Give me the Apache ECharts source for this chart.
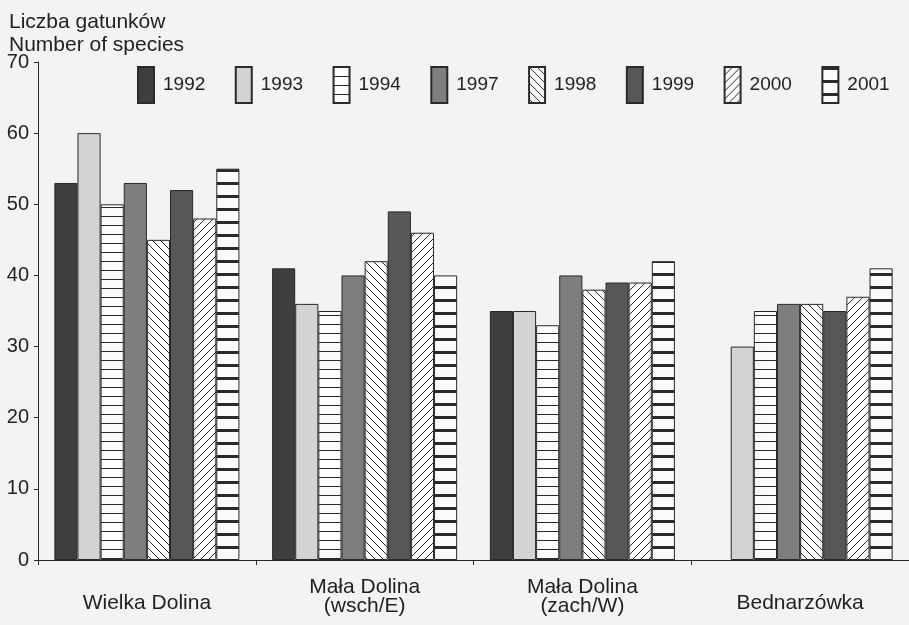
<!DOCTYPE html>
<html>
<head>
<meta charset="utf-8">
<script src="https://cdn.jsdelivr.net/npm/echarts@6.0.0/dist/echarts.min.js"></script>
<style>
  html, body { margin: 0; padding: 0; background: #f3f3f3; }
  #chart { width: 909px; height: 625px; }
</style>
</head>
<body>
<div id="chart"></div>
<script>
  // dane
  let sites = ['Wielka Dolina', 'Mała Dolina\n(wsch/E)', 'Mała Dolina\n(zach/W)', 'Bednarzówka']
  let years = ['1992', '1993', '1994', '1997', '1998', '1999', '2000', '2001']
  let y1992 = [53, 41, 35, null]
  let y1993 = [60, 36, 35, 30]
  let y1994 = [50, 35, 33, 35]
  let y1997 = [53, 40, 40, 36]
  let y1998 = [45, 42, 38, 36]
  let y1999 = [52, 49, 39, 35]
  let y2000 = [48, 46, 39, 37]
  let y2001 = [55, 40, 42, 41]
  let yTicks = [0, 10, 20, 30, 40, 50, 60, 70]

  let font = "'Liberation Sans', Arial, sans-serif"
  let ink = '#2a2a2a'
  let paper = '#fbfbfb'

  /* poziome linie (kreskowanie) */
  let hLines = (step, thick) => {
    let c = document.createElement('canvas')
    c.width = 4
    c.height = step
    let ctx = c.getContext('2d')
    ctx.fillStyle = paper
    ctx.fillRect(0, 0, 4, step)
    ctx.fillStyle = ink
    ctx.fillRect(0, 0, 4, thick)
    return { image: c, repeat: 'repeat' }
  }

  /* ukośne linie, dir = 1 dla "/" i -1 dla "\" */
  let diag = (step, dir) => {
    let c = document.createElement('canvas')
    c.width = step
    c.height = step
    let ctx = c.getContext('2d')
    ctx.fillStyle = paper
    ctx.fillRect(0, 0, step, step)
    ctx.strokeStyle = ink
    ctx.lineWidth = 1
    ctx.beginPath()
    if (dir > 0) {
      ctx.moveTo(0, step); ctx.lineTo(step, 0)
      ctx.moveTo(-1, 1); ctx.lineTo(1, -1)
      ctx.moveTo(step - 1, step + 1); ctx.lineTo(step + 1, step - 1)
    } else {
      ctx.moveTo(0, 0); ctx.lineTo(step, step)
      ctx.moveTo(-1, step - 1); ctx.lineTo(1, step + 1)
      ctx.moveTo(step - 1, -1); ctx.lineTo(step + 1, 1)
    }
    ctx.stroke()
    return { image: c, repeat: 'repeat' }
  }

  let fills = [
    '#3e3e3e',
    '#d3d3d3',
    hLines(9, 1),
    '#7e7e7e',
    diag(8, -1),
    '#575757',
    diag(8, 1),
    hLines(13, 3)
  ]
  let values = [y1992, y1993, y1994, y1997, y1998, y1999, y2000, y2001]

  let series = years.map((name, i) => ({
    name: name,
    type: 'bar',
    data: values[i],
    barGap: '0%',
    barCategoryGap: '15%',
    itemStyle: { color: fills[i], borderColor: ink, borderWidth: 1 },
    emphasis: { disabled: true }
  }))

  let chart = echarts.init(document.getElementById('chart'), null, { renderer: 'canvas' })
  chart.setOption({
    backgroundColor: '#f3f3f3',
    animation: false,
    title: {
      text: 'Liczba gatunków\nNumber of species',
      left: 4,
      top: 6,
      textStyle: { fontFamily: font, fontSize: 21, lineHeight: 23, fontWeight: 'normal', color: '#222' }
    },
    legend: {
      data: years,
      left: 132,
      top: 61,
      icon: 'rect',
      itemWidth: 16,
      itemHeight: 36,
      itemGap: 29.5,
      textStyle: { fontFamily: font, fontSize: 19, color: '#222', padding: [0, 0, 0, 4] }
    },
    grid: { left: 38, right: 0, top: 62, bottom: 65, containLabel: false },
    xAxis: {
      type: 'category',
      data: sites,
      axisLine: { lineStyle: { color: ink, width: 1 } },
      axisTick: { show: true, length: 5, lineStyle: { color: ink } },
      axisLabel: {
        fontFamily: font,
        fontSize: 21,
        lineHeight: 19,
        color: '#222',
        margin: 37,
        verticalAlign: 'middle',
        formatter: v => v.indexOf('\n') < 0 ? '{s|' + v + '}' : v,
        rich: { s: { fontFamily: font, fontSize: 21, lineHeight: 19, color: '#222', padding: [12, 0, 0, 0] } }
      }
    },
    yAxis: {
      type: 'value',
      min: yTicks[0],
      max: yTicks[yTicks.length - 1],
      interval: 10,
      axisLine: { show: true, lineStyle: { color: ink, width: 1 } },
      axisTick: { show: true, length: 4, lineStyle: { color: ink } },
      splitLine: { show: false },
      axisLabel: { fontFamily: font, fontSize: 20, color: '#222', margin: 9 }
    },
    series: series
  })
</script>
</body>
</html>
